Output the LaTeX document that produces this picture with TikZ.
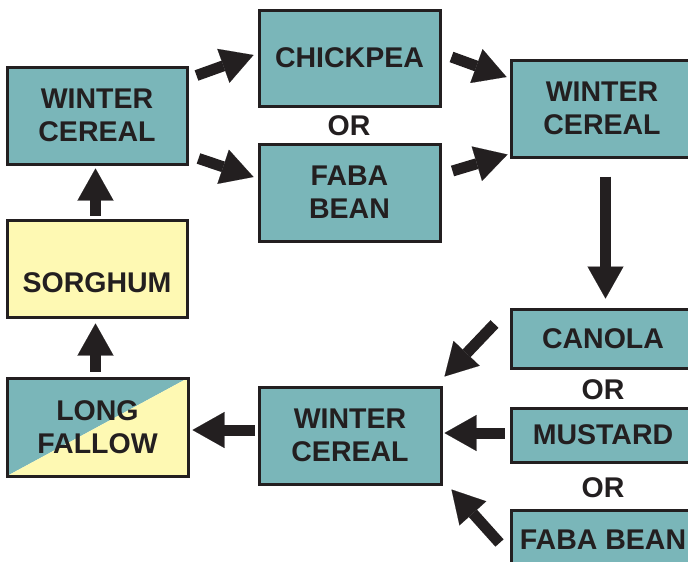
\documentclass[tikz,border=0pt]{standalone}
\usepackage{fontspec}
\setmainfont{Liberation Sans}
\usetikzlibrary{arrows.meta,calc}
\definecolor{ink}{HTML}{231F20}
\definecolor{tealc}{HTML}{7AB6B9}
\definecolor{yelc}{HTML}{FEF9B3}
\newcommand\lab{\fontsize{28.5}{33}\selectfont\bfseries}
\tikzset{
  box/.style={draw=ink, line width=3pt, fill=tealc, align=center, font=\lab, text=ink, inner sep=0pt},
  ortext/.style={font=\lab, text=ink, inner sep=0pt},
  blk/.style={draw=ink, line width=11pt, -{Triangle[width=36pt,length=32pt,line width=0.1pt]}}
}
\begin{document}
\begin{tikzpicture}[x=1pt,y=-1pt]
\useasboundingbox (0,0) rectangle (688,562);
\clip (0,0) rectangle (688,562);
\fill[white] (0,0) rectangle (688,562);
% boxes
\node[box, minimum width=180pt, minimum height=97pt] (wc1) at (97,115.5) {WINTER\\CEREAL};
\node[box, minimum width=181pt, minimum height=96pt] (chick) at (349.5,58) {CHICKPEA};
\node[ortext] (or1) at (349,126) {OR};
\node[box, minimum width=181pt, minimum height=97pt] (faba1) at (349.5,192.5) {FABA\\BEAN};
\node[box, minimum width=182pt, minimum height=97pt] (wc2) at (602,108.5) {WINTER\\CEREAL};
\node[box, fill=yelc, minimum width=180pt, minimum height=97pt,
      label={[font=\lab, text=ink, inner sep=0pt, yshift=-14.5pt]center:SORGHUM}] (sorg) at (97,268.5) {};
\node[box, fill=none, minimum width=181pt, minimum height=98pt,
      path picture={
        \fill[tealc] (path picture bounding box.south west) -- (path picture bounding box.north west) -- (path picture bounding box.north east) -- cycle;
        \fill[yelc] (path picture bounding box.south west) -- (path picture bounding box.south east) -- (path picture bounding box.north east) -- cycle;
      }] (lf) at (97.5,427) {LONG\\FALLOW};
\node[box, minimum width=182pt, minimum height=97pt] (wc3) at (350,435.5) {WINTER\\CEREAL};
\node[box, minimum width=184pt, minimum height=59pt] (canola) at (603,338.5) {CANOLA};
\node[ortext] (or2) at (603,390) {OR};
\node[box, minimum width=184pt, minimum height=54pt] (mustard) at (603,435) {MUSTARD};
\node[ortext] (or3) at (603,488) {OR};
\node[box, minimum width=184pt, minimum height=60pt] (faba2) at (603,540) {FABA BEAN};
% arrows
\draw[blk] ($(wc1.north east)+(8,10)$) -- ($(chick.west)+(-4,-3)$);
\draw[blk] ($(wc1.south east)+(10,-7)$) -- ($(faba1.west)+(-4,-15.5)$);
\draw[blk] ($(chick.east)+(10,-1)$) -- ($(wc2.west)+(-3,-31.5)$);
\draw[blk] ($(faba1.east)+(11,-21.5)$) -- ($(wc2.south west)+(-2,-4)$);
\draw[blk] ($(wc2.south)+(3.5,18)$) -- ($(canola.north)+(2.5,-9)$);
\draw[blk] ($(canola.west)+(-15,-14.5)$) -- ($(wc3.north east)+(2,-9)$);
\draw[blk] ($(mustard.west)+(-5,-2)$) -- ($(wc3.east)+(2,-2.5)$);
\draw[blk] ($(faba2.west)+(-10,3)$) -- ($(wc3.south east)+(9,4)$);
\draw[blk] ($(wc3.west)+(-3,-5.5)$) -- ($(lf.east)+(3,3)$);
\draw[blk] ($(lf.north)+(-2,-5)$) -- ($(sorg.south)+(-1.5,5)$);
\draw[blk] ($(sorg.north)+(-1.5,-3)$) -- ($(wc1.south)+(-1.5,3)$);
\end{tikzpicture}
\end{document}
